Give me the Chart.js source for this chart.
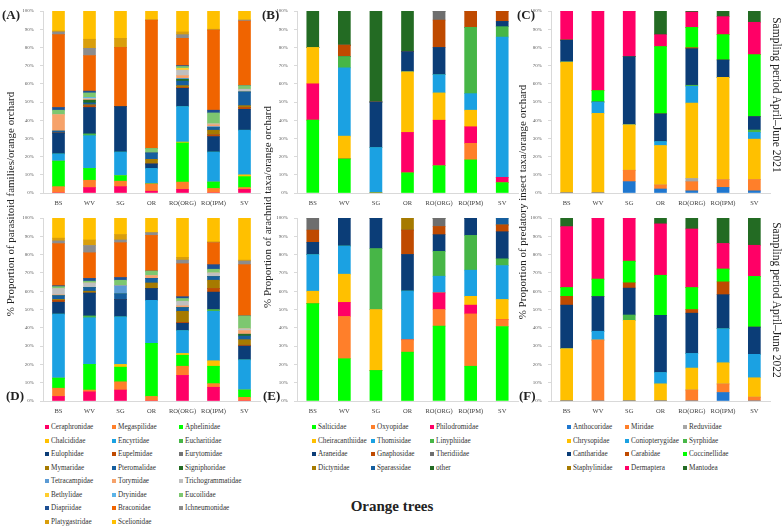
<!DOCTYPE html>
<html lang="en">
<head>
<meta charset="UTF-8">
<title>Parasitoids, arachnids and predatory insects in orange orchards</title>
<script src="https://cdn.jsdelivr.net/npm/chart.js"></script>
<style>
  body { margin: 0; background: #fff; }
  #page { position: relative; width: 784px; height: 529px; overflow: hidden; font-family: "Liberation Serif", serif; color: #222; }
  #page canvas { position: absolute; }
  .txt { position: absolute; white-space: nowrap; }
  .vtitle { position: absolute; white-space: nowrap; font-size: 11px; transform: translate(-50%, -50%) rotate(-90deg); }
  .rtitle { position: absolute; white-space: nowrap; font-size: 11.5px; transform: translate(-50%, -50%) rotate(90deg); }
  .plabel { position: absolute; font-weight: bold; font-size: 13px; transform: translateY(-50%); }
  .leg { position: absolute; font-size: 7.2px; line-height: 10px; height: 10px; color: #333; white-space: nowrap; }
  .sq { position: absolute; width: 4px; height: 4px; }
</style>
</head>
<body>
<div id="page">
  <canvas id="chartA" width="255" height="207" style="left:7px;top:2px"></canvas>
  <canvas id="chartB" width="259" height="207" style="left:261px;top:2px"></canvas>
  <canvas id="chartC" width="257" height="207" style="left:515px;top:2px"></canvas>
  <canvas id="chartD" width="255" height="208" style="left:7px;top:209px"></canvas>
  <canvas id="chartE" width="259" height="208" style="left:261px;top:209px"></canvas>
  <canvas id="chartF" width="257" height="208" style="left:515px;top:209px"></canvas>

  <div class="vtitle" style="left:10px;top:204px">% Proportion of parasitoid families/orange orchard</div>
  <div class="vtitle" style="left:267px;top:207px">% Proportion of arachnid taxa/orange orchard</div>
  <div class="vtitle" style="left:522px;top:202px">% Proportion of predatory insect taxa/orange orchard</div>
  <div class="rtitle" style="left:777px;top:95px">Sampling period April–June 2021</div>
  <div class="rtitle" style="left:777px;top:300px">Sampling period April–June 2022</div>

  <div class="plabel" style="left:2px;top:15px">(A)</div>
  <div class="plabel" style="left:262px;top:15px">(B)</div>
  <div class="plabel" style="left:517px;top:15px">(C)</div>
  <div class="plabel" style="left:6px;top:396px">(D)</div>
  <div class="plabel" style="left:263px;top:396px">(E)</div>
  <div class="plabel" style="left:519px;top:396px">(F)</div>

  <div class="txt" style="left:392px;top:506px;transform:translate(-50%,-50%);font-weight:bold;font-size:15px">Orange trees</div>
</div>

<script>
// orchards (x axis)
const orchards = ['BS', 'WV', 'SG', 'OR', 'RO(ORG)', 'RO(IPM)', 'SV'];

// parasitoid families, in stacking / legend order
const parasitoidTaxa = ['Ceraphronidae', 'Megaspilidae', 'Aphelinidae', 'Chalcididae', 'Encyrtidae', 'Eucharitidae',
  'Eulophidae', 'Eupelmidae', 'Eurytomidae', 'Mymaridae', 'Pteromalidae', 'Signiphoridae', 'Tetracampidae',
  'Torymidae', 'Trichogrammatidae', 'Bethylidae', 'Dryinidae', 'Eucoilidae', 'Diapriidae', 'Braconidae',
  'Ichneumonidae', 'Platygastridae', 'Scelionidae'];
const parasitoidColors = ['#FF0066', '#FF7F2A', '#00FF00', '#FFC000', '#1BA1E2', '#47B647',
  '#0B3D77', '#BF4A00', '#737373', '#A67A00', '#155E9E', '#236B23', '#5B9BD5',
  '#F6A26A', '#BFBFBF', '#FFCD2E', '#5CB4E8', '#7DC770', '#1D4F93', '#F06400',
  '#8C8C8C', '#D99E0B', '#FFC000'];

// % per orchard, one row per family (2021)
const parasitoid2021 = [
  [0, 3, 3.5, 1, 2, 0, 2],
  [3.5, 4, 3, 4, 4, 2.5, 1],
  [14, 6.5, 3, 0, 21.5, 3.5, 6],
  [0, 0, 0, 0, 0.5, 0, 1],
  [4, 18, 13, 8.5, 19.5, 16.5, 24.5],
  [0, 1, 0, 0, 0, 0, 0],
  [11.5, 14.5, 25, 2.5, 10, 8.5, 11.5],
  [0, 1, 0, 0, 0.5, 1, 1],
  [0, 0, 0, 0, 0, 0, 0],
  [0, 0.5, 0, 2.5, 1, 2.5, 1],
  [1, 1, 0, 3.5, 2.5, 1.5, 7.5],
  [0, 1.5, 0, 0, 1, 0, 0],
  [0, 0, 0, 0, 0.5, 0.5, 0],
  [9, 0.5, 0, 0, 1.5, 1, 0],
  [0, 0.5, 0, 0, 3, 0.5, 1.5],
  [0, 0, 0, 0, 1, 0, 0],
  [0, 0.5, 0, 0, 0, 0, 0],
  [2.5, 2.5, 0, 2.5, 1, 6, 2],
  [1.5, 1, 0, 0, 0.5, 1.5, 0],
  [40, 19.5, 32.5, 70.5, 15, 44, 35.5],
  [1.5, 4, 0, 0, 2, 0, 0.5],
  [0.5, 5, 5, 0, 1.5, 0.5, 0],
  [11, 15.5, 15, 5, 11.5, 10, 5]
];

// 2022
const parasitoid2022 = [
  [2.5, 5, 6, 0, 14, 7.5, 0],
  [4.5, 1, 4.5, 2.5, 5, 2, 2],
  [5.5, 14, 8, 29, 6, 9.5, 4],
  [0, 0, 1.5, 0, 1, 3, 0],
  [35, 25.5, 26, 23.5, 12.5, 27, 16.5],
  [0, 1, 0, 0, 0, 1, 0],
  [6.5, 12.5, 9.5, 6.5, 4, 9.5, 7.5],
  [1, 0, 0, 0, 0.5, 2, 0.5],
  [0, 0, 0, 0, 0, 0, 0],
  [0.5, 1, 0, 3, 6, 4.5, 3],
  [2, 2, 3, 2.5, 2, 2, 2],
  [0, 0, 0, 0, 0, 0, 1],
  [0, 0, 4.5, 0, 0, 0, 0],
  [0.5, 0, 0, 1.5, 1, 0, 2],
  [3.5, 2.5, 0, 0, 2.5, 2, 1],
  [0, 0, 0, 0, 0, 0, 0],
  [0, 0, 0, 0, 0, 0, 0],
  [1, 1, 3, 2.5, 1.5, 2, 7],
  [0.5, 1.5, 1.5, 0, 1, 2.5, 0],
  [23, 14, 19, 19.5, 18, 12, 28],
  [1.5, 4, 1.5, 1.5, 2, 0, 2],
  [1.5, 3, 3, 0, 1.5, 0.5, 0.5],
  [11, 12, 9, 8, 21.5, 13, 23]
];

// arachnid taxa
const arachnidTaxa = ['Salticidae', 'Oxyopidae', 'Philodromidae', 'Cheiracanthiidae', 'Thomisidae', 'Linyphiidae',
  'Araneidae', 'Gnaphosidae', 'Theridiidae', 'Dictynidae', 'Sparassidae', 'other'];
const arachnidColors = ['#00FF00', '#FF7F2A', '#FF0066', '#FFC000', '#1BA1E2', '#47B647',
  '#0B3D77', '#BF4A00', '#6E6E6E', '#A67A00', '#155E9E', '#236B23'];

const arachnid2021 = [
  [40, 18.75, 0, 11.1, 15, 18.2, 5.7],
  [0, 0, 0, 0, 0, 9.1, 0],
  [20, 0, 0, 22.2, 25, 9.1, 2.9],
  [20, 12.5, 0, 33.3, 15, 9.1, 0],
  [0, 37.5, 25, 0, 10, 9.1, 77.1],
  [0, 6.25, 0, 0, 0, 36.4, 5.7],
  [0, 0, 25, 11.1, 15, 0, 2.9],
  [0, 6.25, 0, 0, 15, 9.1, 5.7],
  [0, 0, 0, 0, 5, 0, 0],
  [0, 0, 0, 0, 0, 0, 0],
  [0, 0, 0, 0, 0, 0, 0],
  [20, 18.75, 50, 22.2, 0, 0, 0]
];

const arachnid2022 = [
  [53.3, 23.1, 16.7, 26.7, 40.9, 19, 40.7],
  [0, 23.1, 0, 6.7, 9.1, 28.6, 3.7],
  [0, 7.7, 0, 0, 9.1, 4.8, 0],
  [6.7, 15.4, 33.3, 0, 0, 4.8, 11.1],
  [20, 15.4, 0, 26.7, 9.1, 14.3, 18.5],
  [0, 0, 33.3, 0, 13.6, 19, 3.7],
  [6.7, 15.4, 16.7, 20, 9.1, 9.5, 14.8],
  [6.7, 0, 0, 13.3, 4.5, 0, 3.7],
  [6.7, 0, 0, 0, 4.5, 0, 0],
  [0, 0, 0, 6.7, 0, 0, 0],
  [0, 0, 0, 0, 0, 0, 3.7],
  [0, 0, 0, 0, 0, 0, 0]
];

// predatory insect taxa
const predatorTaxa = ['Anthocoridae', 'Miridae', 'Reduviidae', 'Chrysopidae', 'Coniopterygidae', 'Syrphidae',
  'Cantharidae', 'Carabidae', 'Coccinellidae', 'Staphylinidae', 'Dermaptera', 'Mantodea'];
const predatorColors = ['#1F77CF', '#FF7F2A', '#A6A6A6', '#FFC000', '#1BA1E2', '#47B647',
  '#0B3D77', '#BF4A00', '#00FF00', '#A67A00', '#FF0066', '#236B23'];

const predator2021 = [
  [0, 0, 6.25, 2.2, 1.2, 3.1, 1.2],
  [0, 0, 6.25, 2.2, 5, 4.2, 6.2],
  [0, 0, 0, 0, 1.8, 0, 0],
  [72, 43.75, 25, 21.7, 41.4, 56.2, 22.2],
  [0, 6.25, 0, 2.2, 9.2, 0, 3.7],
  [0, 0, 0, 0, 0.6, 0, 1.3],
  [12, 0, 37.5, 15.2, 20.1, 9.6, 7.4],
  [0, 0, 0, 0, 0.6, 0, 0],
  [0, 6.25, 0, 37, 11.1, 13.9, 34],
  [0, 0, 0, 0, 0, 0, 0],
  [16, 43.75, 25, 6.5, 8.4, 9.9, 17.8],
  [0, 0, 0, 13, 0.6, 3.1, 6.2]
];

const predator2022 = [
  [0, 0, 0, 0, 0, 4.65, 0],
  [0, 33.3, 0, 0, 6, 4.65, 2.1],
  [0, 0, 0, 0, 0, 0, 0],
  [28.6, 0, 44.1, 9.4, 12, 11.6, 10.6],
  [0, 4.8, 0, 6.2, 8, 18.6, 12.8],
  [0, 0, 2.9, 0, 0, 0, 0],
  [23.8, 19, 14.7, 31.2, 22, 18.6, 14.9],
  [4.8, 0, 2.9, 0, 2, 7, 0],
  [4.8, 9.5, 11.8, 21.9, 12, 7, 27.7],
  [0, 0, 0, 0, 0, 0, 0],
  [33.3, 33.3, 23.5, 28.1, 32, 14, 17],
  [4.8, 0, 0, 3.1, 6, 14, 14.9]
];

const yTicks = [0, 10, 20, 30, 40, 50, 60, 70, 80, 90, 100];

Chart.defaults.font.family = '"Liberation Serif", serif';

function stackedChart(id, taxa, colors, rows) {
  const datasets = taxa.map((name, i) => ({
    label: name,
    data: rows[i],
    backgroundColor: colors[i],
    borderWidth: 0,
    barThickness: 12
  }));
  new Chart(document.getElementById(id), {
    type: 'bar',
    data: { labels: orchards, datasets: datasets },
    options: {
      responsive: false,
      animation: false,
      layout: { padding: { top: 5, right: 2, left: 0, bottom: 0 } },
      plugins: { legend: { display: false }, tooltip: { enabled: false } },
      scales: {
        x: {
          stacked: true,
          grid: { display: false, drawTicks: false, tickLength: 0 },
          border: { color: '#D9D9D9' },
          ticks: { color: '#404040', font: { size: 6.5 }, padding: 6, maxRotation: 0, autoSkip: false },
          afterFit: s => { s.height = 16; }
        },
        y: {
          stacked: true,
          min: 0,
          max: 100,
          afterBuildTicks: s => { s.ticks = yTicks.map(v => ({ value: v })); },
          grid: { drawOnChartArea: false, tickLength: 3, color: '#D9D9D9' },
          border: { color: '#D9D9D9' },
          ticks: { color: '#595959', font: { size: 5 }, padding: 6, callback: v => v + '%' },
          afterFit: s => { s.width = 36; }
        }
      }
    }
  });
}

stackedChart('chartA', parasitoidTaxa, parasitoidColors, parasitoid2021);
stackedChart('chartB', arachnidTaxa, arachnidColors, arachnid2021);
stackedChart('chartC', predatorTaxa, predatorColors, predator2021);
stackedChart('chartD', parasitoidTaxa, parasitoidColors, parasitoid2022);
stackedChart('chartE', arachnidTaxa, arachnidColors, arachnid2022);
stackedChart('chartF', predatorTaxa, predatorColors, predator2022);

// legends: 3 columns, row-major, below each column of panels
function buildLegend(taxa, colors, cols) {
  const page = document.getElementById('page');
  taxa.forEach((name, i) => {
    const row = Math.floor(i / 3), col = i % 3;
    const y = 427 + row * 13.5;
    const sq = document.createElement('div');
    sq.className = 'sq';
    sq.style.left = cols[col] + 'px';
    sq.style.top = (y - 2) + 'px';
    sq.style.background = colors[i];
    page.appendChild(sq);
    const t = document.createElement('div');
    t.className = 'leg';
    t.style.left = (cols[col] + 6) + 'px';
    t.style.top = (y - 5) + 'px';
    t.textContent = name;
    page.appendChild(t);
  });
}
buildLegend(parasitoidTaxa, parasitoidColors, [45, 112, 179]);
buildLegend(arachnidTaxa, arachnidColors, [312, 371, 430]);
buildLegend(predatorTaxa, predatorColors, [567, 625, 683]);
</script>
</body>
</html>
